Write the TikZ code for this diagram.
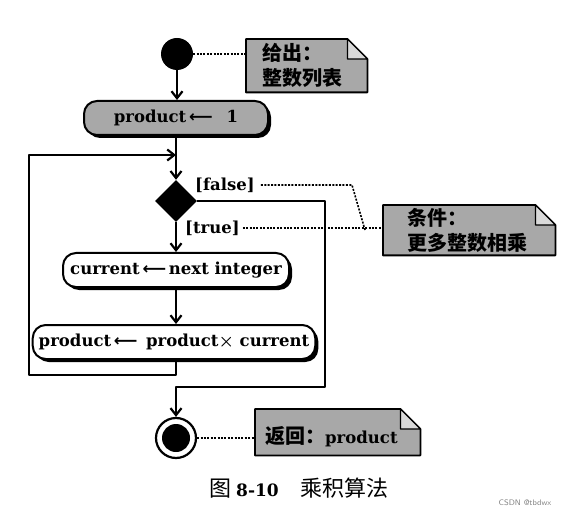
\documentclass[tikz,border=0pt]{standalone}
\usepackage{fontspec}
\setmainfont{DejaVu Serif}
\newfontfamily\cjk{Noto Sans CJK SC}
\newfontfamily\arrowfont{DejaVu Sans}
\usetikzlibrary{arrows.meta,shapes.geometric,shadows}
\definecolor{boxgray}{gray}{0.66}
\definecolor{foldgray}{gray}{0.85}
\newcommand{\getsto}{{\arrowfont\bfseries ⟵}}

\begin{document}
\begin{tikzpicture}[x=1pt, y=-1pt, line join=round, >={Straight Barb[length=7pt,width=11pt]},
    flow/.style={line width=2.2pt},
    dots/.style={line width=1.6pt, dash pattern=on 2pt off 1.4pt},
    act/.style={draw, line width=2pt, rounded corners=13pt, minimum height=34pt, inner xsep=6pt,
      font=\bfseries\fontsize{16.5}{18}\selectfont,
      drop shadow={shadow xshift=3pt, shadow yshift=-3pt, fill=black, opacity=1}},
    tag/.style={font=\bfseries\fontsize{16.5}{18}\selectfont, anchor=west, inner sep=0pt},
    notebox/.style={anchor=north west, inner sep=0pt},
    notetext/.style={font=\cjk\bfseries\fontsize{20}{25}\selectfont, align=left, anchor=west, inner sep=0pt}]
    \useasboundingbox (0,0) rectangle (564,518);
    \path
    (176,155) coordinate (merge)
    (29,375) coordinate (back)
    (325,387) coordinate (exit)
    (352,185) coordinate (bend1)
    (365,230) coordinate (bend2);
    % notes
    \node[notebox, minimum width=121pt, minimum height=53pt] (give) at (246,39) {};
    \node[notebox, minimum width=172pt, minimum height=50pt] (cond) at (383,205) {};
    \node[notebox, minimum width=165pt, minimum height=46pt] (ret) at (255,409) {};
    \foreach \n in {give,cond,ret}{
      \fill[black, shift={(3,3)}] (\n.south west) -- (\n.north west) -- ([xshift=-20pt]\n.north east)
        -- ([yshift=-20pt]\n.north east) -- (\n.south east) -- cycle;
      \draw[fill=boxgray, line width=1.8pt] (\n.south west) -- (\n.north west) -- ([xshift=-20pt]\n.north east)
        -- ([yshift=-20pt]\n.north east) -- (\n.south east) -- cycle;
      \draw[fill=foldgray, line width=1.2pt] ([xshift=-20pt]\n.north east) -- ([xshift=-20pt,yshift=-20pt]\n.north east)
        -- ([yshift=-20pt]\n.north east) -- cycle;
    }
    \node[notetext] at ([xshift=16pt]give.west) {给出：\\整数列表};
    \node[notetext] at ([xshift=24pt]cond.west) {条件：\\更多整数相乘};
    \node[notetext] at (265,437) {返回：{\rmfamily\fontsize{16.5}{18}\selectfont product}};
    % activity
    \node[circle, fill=black, minimum size=32pt, inner sep=0pt] (start) at (177,54) {};
    \node[act, fill=boxgray, minimum width=184pt] (init) at (176,118) {product\,\getsto\hspace{14pt}1};
    \node[diamond, fill=black, minimum width=42pt, minimum height=42pt, inner sep=0pt] (test) at (176,201) {};
    \node[act, fill=white, minimum width=226pt] (current) at (176,270) {current\,\getsto\,next integer};
    \node[act, fill=white, minimum width=277pt] (prod) at (174,342) {product\,\getsto\, product{\boldmath$\times$} current};
    \node[circle, draw, fill=white, line width=2.2pt, minimum size=40pt, inner sep=0pt] (end) at (176,438) {};
    \fill (end) circle (14);
    \node[tag] (fl) at (195,185) {[false]};
    \node[tag] (tr) at (185,228) {[true]};
    % connectors
    \draw[flow,->] (start) -- (start |- init.north);
    \draw[flow,->] (init.south -| test) -- (test.north);
    \draw[flow,->] (test.south) -- (current.north);
    \draw[flow,->] (current.south) -- (current.south |- prod.north);
    \draw[flow,->] (prod.south -| merge) |- (back) |- (merge);
    \draw[flow,->] (test.east) -| (exit) -| (end.north);
    \draw[dots] (start.east) -- (start -| give.west);
    \draw[dots, shorten <=6pt] (fl.east) -- (bend1) -- (bend2);
    \draw[dots, shorten <=3pt] (tr.east) -- (tr.east -| cond.west);
    \draw[dots] (end.east) -- (end -| ret.west);
    \node[font=\cjk\fontsize{22}{24}\selectfont] (cap) at (299,488) {图 {\rmfamily\bfseries\fontsize{17}{20}\selectfont 8-10}\quad 乘积算法};
    \node[font=\sffamily\fontsize{8}{9}\selectfont, text=gray] (mark) at (525,503) {CSDN @tbdwx};
\end{tikzpicture}
\end{document}
